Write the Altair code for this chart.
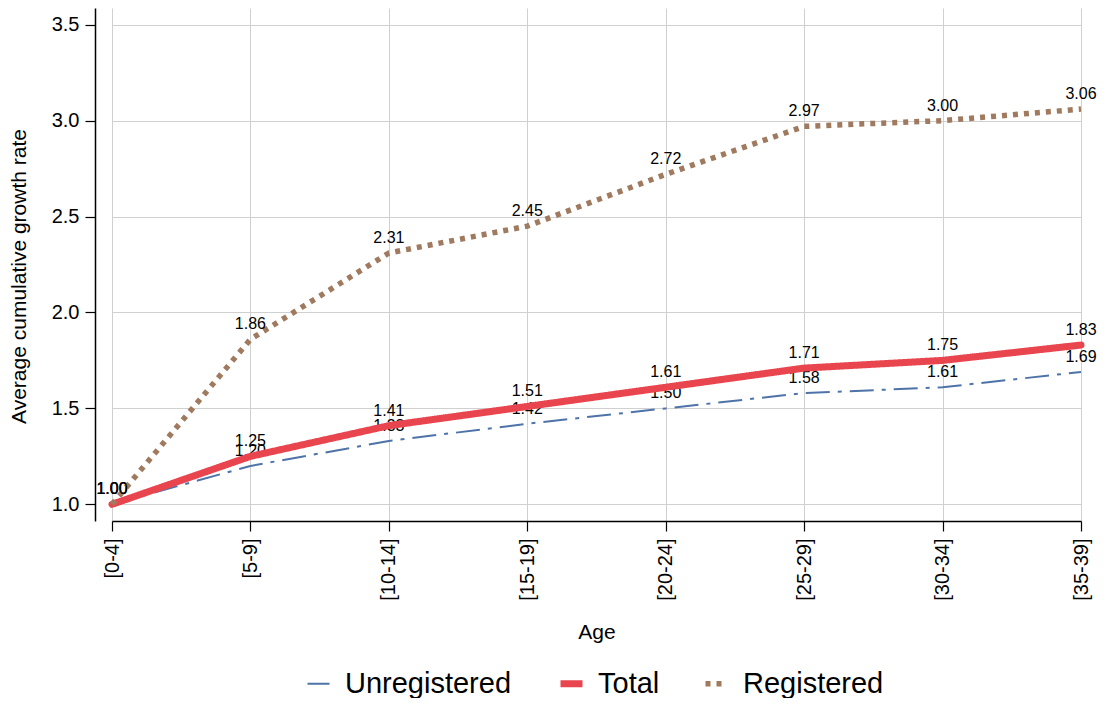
import altair as alt
import pandas as pd

ages = ["[0-4]", "[5-9]", "[10-14]", "[15-19]", "[20-24]", "[25-29]", "[30-34]", "[35-39]"]
unregistered = [1.00, 1.20, 1.33, 1.42, 1.50, 1.58, 1.61, 1.69]
total = [1.00, 1.25, 1.41, 1.51, 1.61, 1.71, 1.75, 1.83]
registered = [1.00, 1.86, 2.31, 2.45, 2.72, 2.97, 3.00, 3.06]

series_names = ["Unregistered", "Total", "Registered"]
series_values = [unregistered, total, registered]
y_ticks = [1.0, 1.5, 2.0, 2.5, 3.0, 3.5]

colors = ["#4e73a8", "#e9454f", "#a07a5f"]
dashes = [[24, 8, 4, 8], [1, 0], [5, 6]]
widths = [2, 7, 5.5]
caps = ["butt", "round", "butt"]

rows = []
for name, vals in zip(series_names, series_values):
    for a, v in zip(ages, vals):
        rows.append({"series": name, "age": a, "value": v, "label": f"{v:.2f}"})
df = pd.DataFrame(rows)

FONT = "Liberation Sans"

x_enc = alt.X(
    "age:N",
    sort=ages,
    scale=alt.Scale(type="point", range=[17, 986], padding=0),
    axis=alt.Axis(
        title="Age",
        labelAngle=-90,
        labelFontSize=20,
        labelPadding=7,
        tickSize=10,
        titleFontSize=21,
        titleY=117,
        titleBaseline="alphabetic",
    ),
)
y_enc = alt.Y(
    "value:Q",
    scale=alt.Scale(domain=[0.913, 3.587], nice=False, zero=False),
    axis=alt.Axis(
        title="Average cumulative growth rate",
        values=y_ticks,
        format=".1f",
        labelFontSize=20,
        labelPadding=6,
        tickSize=10,
        titleFontSize=21,
        titleAngle=270,
        titleX=-76,
        titleY=268,
        titleAlign="center",
        titleBaseline="middle",
    ),
)
color_enc = alt.Color(
    "series:N",
    scale=alt.Scale(domain=series_names, range=colors),
    legend=alt.Legend(
        title=None,
        orient="none",
        legendX=209,
        legendY=661,
        direction="horizontal",
        symbolType="stroke",
        symbolSize=484,
        labelFontSize=29,
        labelOffset=12,
        columnPadding=34,
        labelLimit=400,
        labelColor="black",
        labelFont=FONT,
    ),
)
dash_enc = alt.StrokeDash("series:N", scale=alt.Scale(domain=series_names, range=dashes))
width_enc = alt.StrokeWidth(
    "series:N", scale=alt.Scale(type="ordinal", domain=series_names, range=widths)
)

layers = []
for name, cap in zip(series_names, caps):
    line = (
        alt.Chart(df)
        .transform_filter(alt.datum.series == name)
        .mark_line(strokeCap=cap, strokeJoin="round")
        .encode(x=x_enc, y=y_enc, color=color_enc, strokeDash=dash_enc, strokeWidth=width_enc)
    )
    text = (
        alt.Chart(df)
        .transform_filter(alt.datum.series == name)
        .mark_text(dy=-10, baseline="alphabetic", align="center", fontSize=16, color="black", font=FONT)
        .encode(x=x_enc, y=y_enc, text="label:N")
    )
    layers += [line, text]

chart = (
    alt.layer(*layers)
    .properties(
        width=1003,
        height=513,
        autosize=alt.AutoSizeParams(type="none"),
        padding={"left": 87, "top": 0, "right": 0, "bottom": 177},
        background="white",
    )
    .configure_view(stroke=None)
    .configure_axis(
        domainColor="black",
        domainWidth=1.5,
        tickColor="black",
        tickWidth=1.2,
        gridColor="#d0d0d0",
        gridWidth=1,
        labelColor="black",
        titleColor="black",
        labelFont=FONT,
        titleFont=FONT,
        titleFontWeight="normal",
        grid=True,
    )
)

chart.save("out.html", embed_options={"renderer": "svg", "actions": False})
